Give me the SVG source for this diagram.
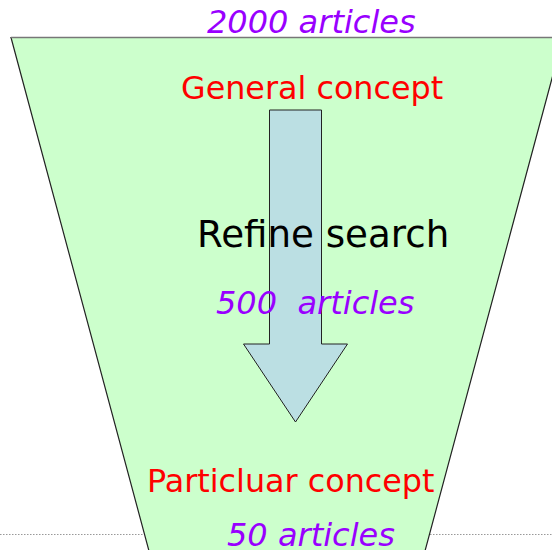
<svg xmlns="http://www.w3.org/2000/svg" width="552" height="550" viewBox="0 0 552 550">
<style>
text{font-family:"DejaVu Sans",Verdana,sans-serif;white-space:pre}
.count{fill:#9900FF;font-style:italic;font-size:32px}
.concept{fill:#FF0000;font-size:31.8px}
.main{fill:#000;font-size:37.2px}
</style>
<rect width="552" height="550" fill="#fff"/>
<g id="guide">
<line x1="0" y1="534.5" x2="146" y2="534.5" stroke="#999" stroke-width="1" stroke-dasharray="1.5,1.5"/>
<line x1="430" y1="534.5" x2="552" y2="534.5" stroke="#999" stroke-width="1" stroke-dasharray="1.5,1.5"/>
</g>
<g id="funnel">
<polygon points="11,37.5 563,37.5 425,551 149,551" fill="#CCFFCC" stroke="#222" stroke-width="1.2"/>
<line x1="11" y1="37.5" x2="563" y2="37.5" stroke="#777" stroke-width="1.5"/>
</g>
<g id="connectors">
<polygon id="arrow" points="269.5,110 321.5,110 321.5,344 347.5,344 295.5,422 243.5,344 269.5,344" fill="#BBDFE3" stroke="#222" stroke-width="1"/>
</g>
<g id="labels">
<text class="count" x="207" y="33">2000 articles</text>
<text class="concept" x="181" y="99">General concept</text>
<text class="main" x="197" y="247">Refine search</text>
<text class="count" x="216" y="314">500  articles</text>
<text class="concept" x="147" y="492">Particluar concept</text>
<text class="count" x="227" y="546">50 articles</text>
</g>
</svg>
